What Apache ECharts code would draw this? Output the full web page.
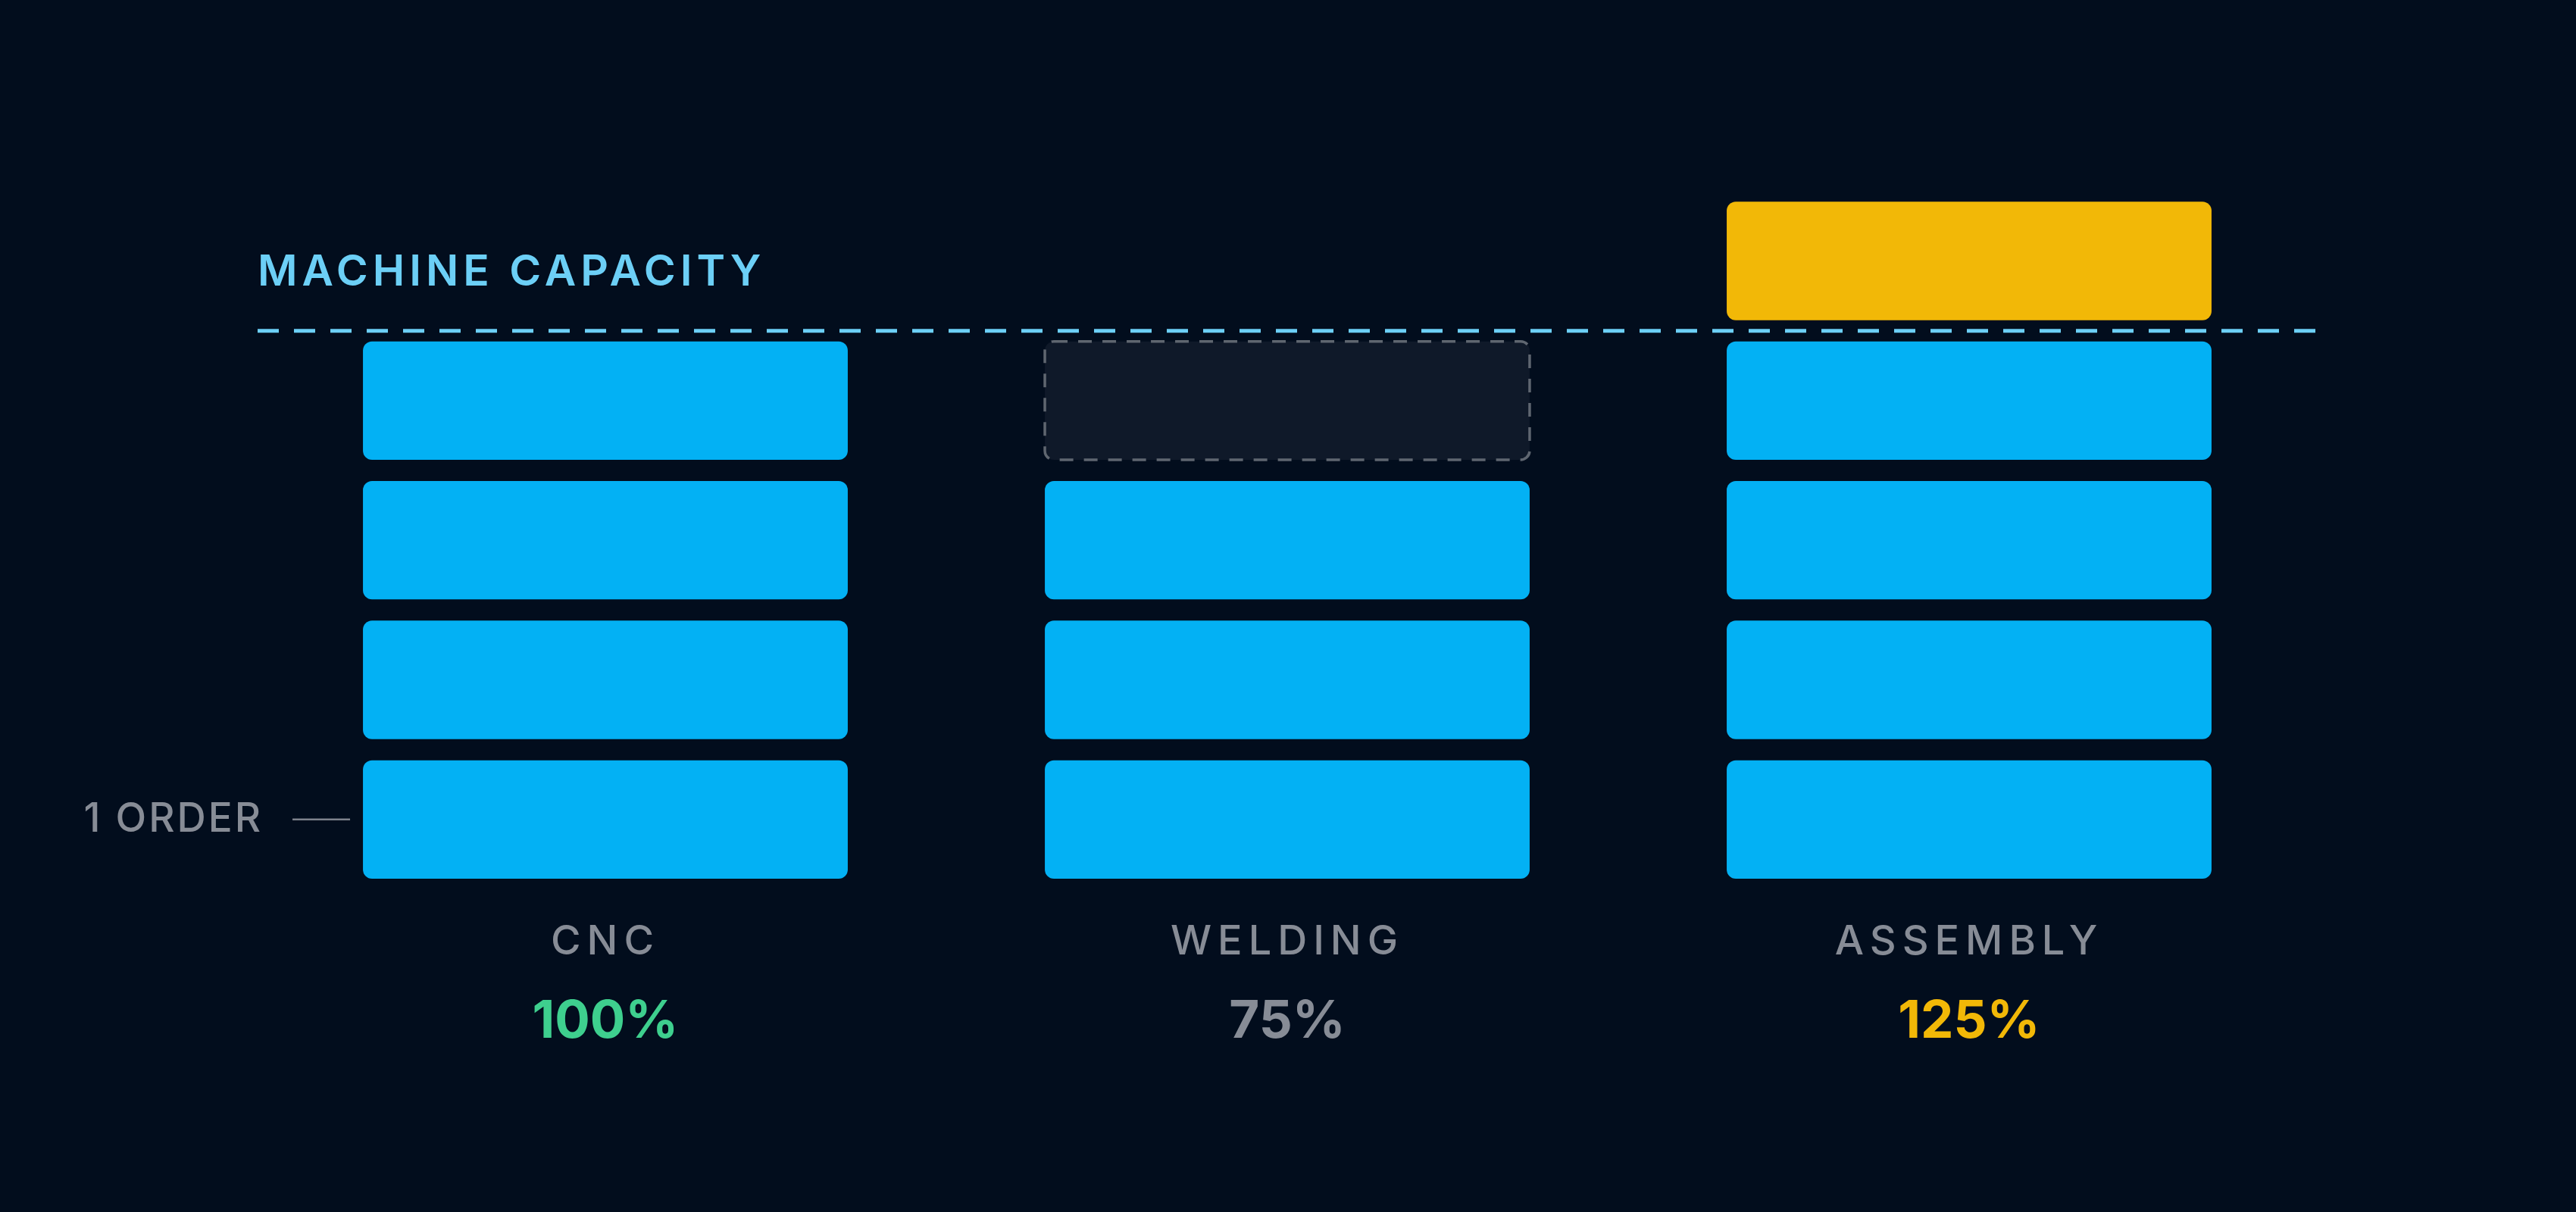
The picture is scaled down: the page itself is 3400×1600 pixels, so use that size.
<!DOCTYPE html>
<html>
<head>
<meta charset="utf-8">
<script src="https://cdn.jsdelivr.net/npm/echarts/dist/echarts.min.js"></script>
<style>
  html, body { margin: 0; padding: 0; background: #020d1d; }
  #chart { width: 3400px; height: 1600px; }
</style>
</head>
<body>
<div id="chart"></div>
<script>
// ---- data ----
const categories = ['CNC', 'WELDING', 'ASSEMBLY'];
const orders = [4, 3, 5];
const capacity = 4;
const capacityLabel = 'MACHINE CAPACITY';
const unitLabel = '1 ORDER';

// ---- letter spacing helper (canvas) ----
const spacingBySize = { '57px': '6px', '53px': '3px', '54px': '8px' };
const origFill = CanvasRenderingContext2D.prototype.fillText;
CanvasRenderingContext2D.prototype.fillText = function (t, x, y, m) {
  let ls = '0px';
  for (const k in spacingBySize) { if (this.font.indexOf(k) >= 0) { ls = spacingBySize[k]; } }
  try { this.letterSpacing = ls; } catch (e) {}
  return m === undefined ? origFill.call(this, t, x, y) : origFill.call(this, t, x, y, m);
};

const utilization = orders.map(o => Math.round(o / capacity * 100));
function pctColor(u) { return u === 100 ? '#3ecf8e' : (u > 100 ? '#f2b807' : '#878c96'); }

// block items: [categoryIndex, slot, type] type 0 = filled, 1 = over capacity, 2 = empty
const blockData = [];
categories.forEach((c, i) => {
  const n = Math.max(orders[i], capacity);
  for (let s = 0; s < n; s++) {
    const t = s < orders[i] ? (s >= capacity ? 1 : 0) : 2;
    blockData.push([i, s, t]);
  }
});

const BAR_RATIO = 0.711;
const GAP_RATIO = 0.076;

const chart = echarts.init(document.getElementById('chart'), null, { renderer: 'canvas', width: 3400, height: 1600 });

const option = {
  backgroundColor: '#020d1d',
  animation: false,
  grid: { left: 349, right: 351, top: 68, bottom: 426 },
  xAxis: [
    {
      type: 'category', data: categories, position: 'bottom', offset: 0,
      axisLine: { show: false }, axisTick: { show: false }, splitLine: { show: false },
      axisLabel: {
        interval: 0, margin: 70, verticalAlign: 'middle',
        color: '#878c96', fontFamily: 'Inter', fontWeight: 500, fontSize: 54
      }
    },
    {
      type: 'category', data: categories, position: 'bottom', offset: 0,
      axisLine: { show: false }, axisTick: { show: false }, splitLine: { show: false },
      axisLabel: {
        interval: 0, margin: 175, verticalAlign: 'middle',
        fontFamily: 'Inter', fontWeight: 700, fontSize: 69,
        formatter: (v, i) => utilization[i] + '%',
        color: (v, i) => pctColor(utilization[categories.indexOf(v)])
      }
    }
  ],
  yAxis: { type: 'value', min: 0, max: 6, show: false },
  series: [
    {
      type: 'custom', name: 'blocks', clip: false,
      data: blockData,
      encode: { x: 0, y: 1 },
      renderItem: function (params, api) {
        const x = api.value(0), s = api.value(1), t = api.value(2);
        const p0 = api.coord([x, s]);
        const p1 = api.coord([x, s + 1]);
        const bw = api.size([1, 0])[0] * BAR_RATIO;
        const h = p0[1] - p1[1];
        const inset = h * GAP_RATIO;
        const shape = { x: p0[0] - bw / 2, y: p1[1] + inset, width: bw, height: h - 2 * inset, r: 12 };
        let style;
        if (t === 2) {
          style = { fill: '#0f1929', stroke: '#5f6670', lineWidth: 3.5, lineDash: [18, 14] };
        } else {
          style = { fill: t === 1 ? '#f2b807' : '#03b1f4' };
        }
        return { type: 'rect', shape: shape, style: style };
      }
    },
    {
      type: 'custom', name: 'capacity', clip: false,
      data: [[0, capacity]],
      encode: { x: 0, y: 1 },
      renderItem: function (params, api) {
        const y = api.coord([0, api.value(1)])[1];
        const cs = params.coordSys;
        return {
          type: 'group',
          children: [
            {
              type: 'line',
              shape: { x1: cs.x - 9, y1: y, x2: cs.x + cs.width + 9, y2: y },
              style: { stroke: '#6ccff6', lineWidth: 5, lineDash: [28, 20] }
            },
            {
              type: 'text',
              style: {
                text: capacityLabel, x: cs.x - 9, y: y - 77,
                fill: '#6ccff6', fontFamily: 'Inter', fontWeight: 600, fontSize: 57,
                align: 'left', verticalAlign: 'middle'
              }
            }
          ]
        };
      }
    },
    {
      type: 'custom', name: 'unit', clip: false,
      data: [[0, 0.5]],
      encode: { x: 0, y: 1 },
      renderItem: function (params, api) {
        const p = api.coord([api.value(0), api.value(1)]);
        const bw = api.size([1, 0])[0] * BAR_RATIO;
        const left = p[0] - bw / 2;
        return {
          type: 'group',
          children: [
            {
              type: 'line',
              shape: { x1: left - 93, y1: p[1], x2: left - 17, y2: p[1] },
              style: { stroke: '#7d828c', lineWidth: 2.5 }
            },
            {
              type: 'text',
              style: {
                text: unitLabel, x: left - 132, y: p[1],
                fill: '#878c96', fontFamily: 'Inter', fontWeight: 500, fontSize: 53,
                align: 'right', verticalAlign: 'middle'
              }
            }
          ]
        };
      }
    }
  ]
};
chart.setOption(option);
</script>
</body>
</html>
